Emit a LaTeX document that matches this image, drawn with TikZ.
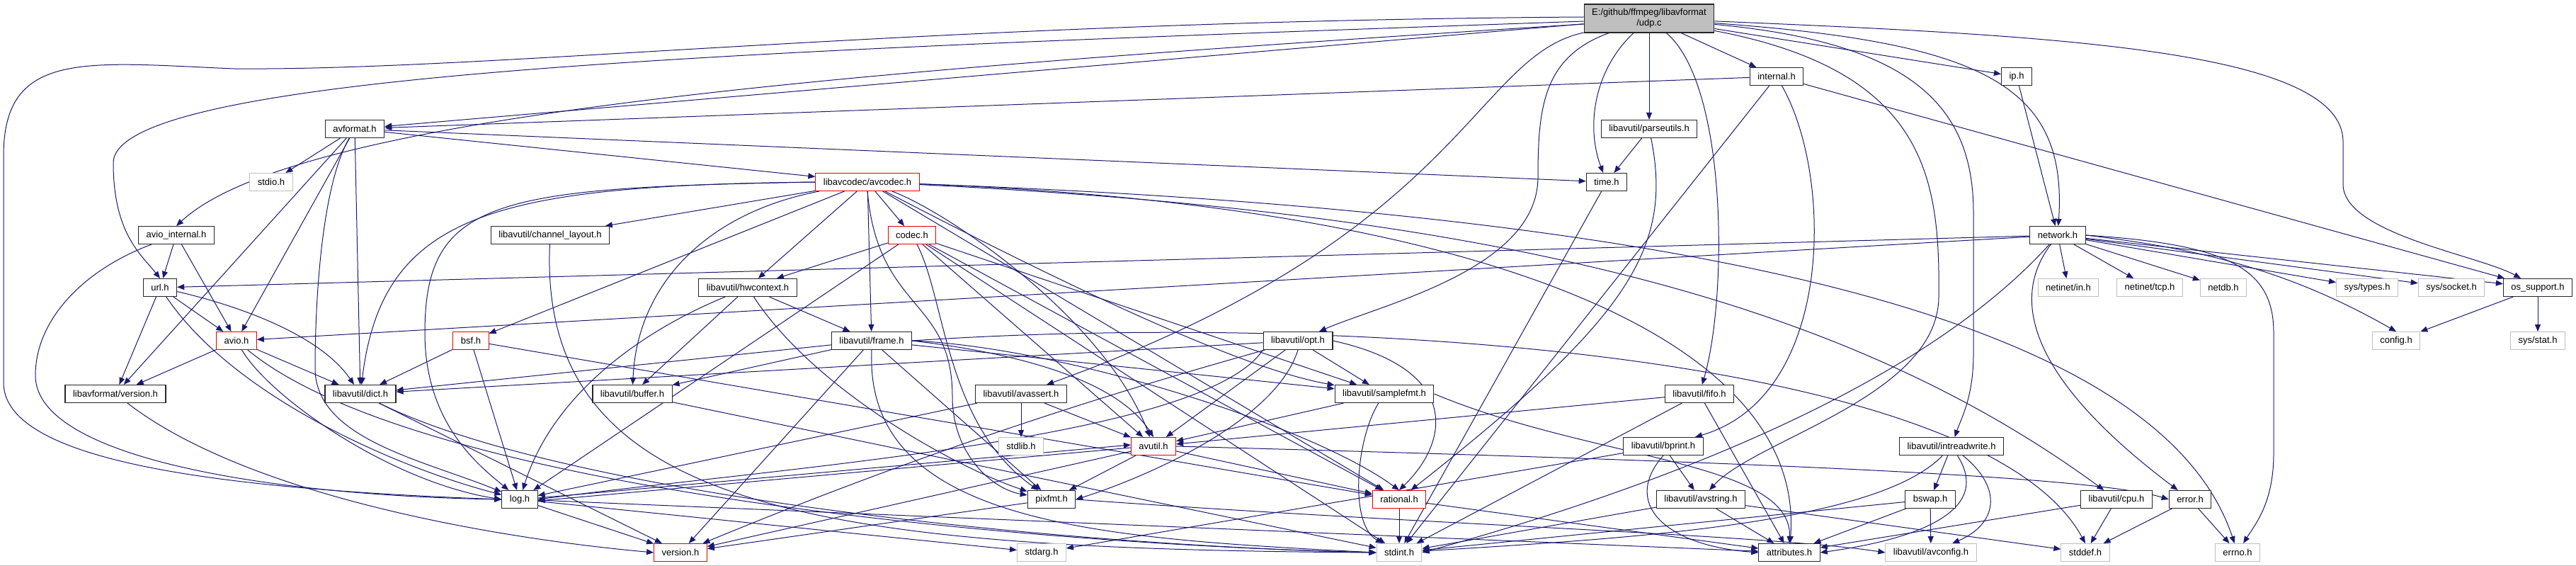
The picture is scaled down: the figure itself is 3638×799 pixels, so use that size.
\documentclass[tikz,border=0pt]{standalone}
\usepackage{fontspec}
\setmainfont{Liberation Sans}
\usepackage{tikz}
\usetikzlibrary{arrows.meta, backgrounds}

\definecolor{edgeblue}{HTML}{191970}
\definecolor{sysgray}{HTML}{BFBFBF}

\begin{document}
\begin{tikzpicture}[
        x=1pt, y=-1pt,
        hdr/.style={
            draw=black!85,
            line width=1.1pt,
            fill=white,
            font=\fontsize{13}{15}\selectfont,
            minimum height=25pt,
            inner xsep=11pt,
            inner ysep=0pt
        },
        trunc/.style={hdr, draw=red!90!black, line width=1pt},
        sys/.style={hdr, draw=sysgray, line width=1pt},
        root/.style={hdr, fill=sysgray, align=center, minimum height=40pt},
        dep/.style={
            draw=edgeblue,
            line width=1pt,
            -{Triangle[length=10pt,width=8pt]}
        }
    ]
    \useasboundingbox (0,0) rectangle (3638,799);
    \draw[sysgray] (0,798) -- (3638,798);

    % the file itself
    \node[root] (udp) at (2329,26) {E:/github/ffmpeg/libavformat\\/udp.c};

    % first levels
    \node[hdr] (avformat) at (501,182) {avformat.h};
    \node[hdr] (internal) at (2509,108) {internal.h};
    \node[hdr] (ip) at (2848,108) {ip.h};
    \node[hdr] (parseutils) at (2329,182) {libavutil/parseutils.h};
    \node[sys] (stdio) at (383,257) {stdio.h};
    \node[trunc] (avcodec) at (1225,257) {libavcodec/avcodec.h};
    \node[hdr] (time) at (2269,257) {time.h};
    \node[hdr] (aviointernal) at (249,332) {avio\_internal.h};
    \node[hdr] (chlayout) at (777,332) {libavutil/channel\_layout.h};
    \node[trunc] (codec) at (1288,332) {codec.h};
    \node[hdr] (network) at (2906,332) {network.h};

    % middle levels
    \node[hdr] (url) at (226,406) {url.h};
    \node[hdr] (hwcontext) at (1056,406) {libavutil/hwcontext.h};
    \node[sys] (netin) at (2921,406) {netinet/in.h};
    \node[sys] (nettcp) at (3036,406) {netinet/tcp.h};
    \node[sys] (netdb) at (3140,406) {netdb.h};
    \node[sys] (systypes) at (3343,406) {sys/types.h};
    \node[sys] (syssocket) at (3462,406) {sys/socket.h};
    \node[hdr] (ossupport) at (3584,406) {os\_support.h};
    \node[trunc] (avio) at (334,481) {avio.h};
    \node[trunc] (bsf) at (665,481) {bsf.h};
    \node[hdr] (frame) at (1231,481) {libavutil/frame.h};
    \node[hdr] (opt) at (1833,481) {libavutil/opt.h};
    \node[sys] (config) at (3384,481) {config.h};
    \node[sys] (sysstat) at (3584,481) {sys/stat.h};
    \node[hdr] (lafversion) at (163,556) {libavformat/version.h};
    \node[hdr] (dict) at (509,556) {libavutil/dict.h};
    \node[hdr] (buffer) at (893,556) {libavutil/buffer.h};
    \node[hdr] (avassert) at (1442,556) {libavutil/avassert.h};
    \node[hdr] (samplefmt) at (1955,556) {libavutil/samplefmt.h};
    \node[hdr] (fifo) at (2400,556) {libavutil/fifo.h};
    \node[sys] (stdlib) at (1442,630) {stdlib.h};
    \node[trunc] (avutil) at (1629,630) {avutil.h};
    \node[hdr] (bprint) at (2349,630) {libavutil/bprint.h};
    \node[hdr] (intrw) at (2756,630) {libavutil/intreadwrite.h};

    % bottom levels
    \node[hdr] (log) at (734,705) {log.h};
    \node[hdr] (pixfmt) at (1485,705) {pixfmt.h};
    \node[trunc] (rational) at (1976,705) {rational.h};
    \node[hdr] (avstring) at (2402,705) {libavutil/avstring.h};
    \node[hdr] (bswap) at (2726,705) {bswap.h};
    \node[hdr] (cpu) at (2989,705) {libavutil/cpu.h};
    \node[hdr] (error) at (3093,705) {error.h};
    \node[trunc] (version) at (961,780) {version.h};
    \node[sys] (stdarg) at (1471,780) {stdarg.h};
    \node[sys] (stdint) at (1976,780) {stdint.h};
    \node[hdr] (attributes) at (2527,780) {attributes.h};
    \node[sys] (avconfig) at (2727,780) {libavutil/avconfig.h};
    \node[sys] (stddef) at (2945,780) {stddef.h};
    \node[sys] (errno) at (3160,780) {errno.h};

    \begin{pgfonlayer}{background}
    % udp.c
    \draw[dep] (udp) -- (avformat);
    \draw[dep] ([yshift=-8pt]udp.west) .. controls (1200,100) and (420,160) .. (aviointernal.north);
    \draw[dep] ([yshift=-4pt]udp.west) .. controls (1100,70) and (160,100) .. (160,230) .. controls (160,330) and (200,360) .. (url.north);
    \draw[dep] ([yshift=2pt]udp.west) .. controls (1300,30) and (700,100) .. (330,97) .. controls (120,88) and (5,70) .. (5,220) -- (5,540) .. controls (5,650) and (300,690) .. (log.west);
    \draw[dep] (udp) .. controls (2080,80) and (2070,330) .. (avassert);
    \draw[dep] (udp) -- (parseutils);
    \draw[dep] (udp) .. controls (2250,100) and (2240,180) .. (time);
    \draw[dep] (udp) .. controls (2440,120) and (2440,420) .. (fifo);
    \draw[dep] (udp) .. controls (2700,60) and (2787,150) .. (2787,300) -- (2787,500) .. controls (2787,560) and (2770,590) .. (intrw);
    \draw[dep] (udp) .. controls (2720,100) and (2740,250) .. (2738,420) .. controls (2736,560) and (2480,620) .. (avstring);
    \draw[dep] (udp) .. controls (2180,80) and (2172,150) .. (2172,250) .. controls (2172,380) and (1950,430) .. (opt);
    \draw[dep] (udp) -- (internal);
    \draw[dep] (udp) -- (ip);
    \draw[dep] (udp) .. controls (2800,60) and (2920,120) .. (network);
    \draw[dep] (udp) .. controls (2900,50) and (3309,70) .. (3309,200) -- (3309,260) .. controls (3309,330) and (3500,360) .. (ossupport);

    % avformat.h
    \draw[dep] (avformat) -- (time);
    \draw[dep] (avformat) -- (stdio);
    \draw[dep] (avformat) -- (avcodec);
    \draw[dep] (avformat) -- (dict);
    \draw[dep] (avformat) .. controls (455,260) and (445,420) .. (445,520) .. controls (445,620) and (600,650) .. (log);
    \draw[dep] (avformat) -- (avio);
    \draw[dep] (avformat) -- (lafversion);

    % internal.h, ip.h, parseutils.h, time.h
    \draw[dep] (internal) -- (avformat);
    \draw[dep] (internal) .. controls (2590,250) and (2590,560) .. (bprint);
    \draw[dep] (internal) -- (stdint);
    \draw[dep] (internal) -- (ossupport);
    \draw[dep] (ip) -- (network);
    \draw[dep] (parseutils) -- (time);
    \draw[dep] (parseutils) .. controls (2363,350) and (2300,450) .. (rational);
    \draw[dep] (time) -- (stdint);

    % avcodec.h
    \draw[dep] (avcodec) .. controls (2400,300) and (3050,450) .. (errno);
    \draw[dep] (avcodec) .. controls (1500,400) and (1750,520) .. (samplefmt);
    \draw[dep] (avcodec) .. controls (2100,290) and (2550,480) .. (attributes);
    \draw[dep] (avcodec) .. controls (1340,300) and (1560,450) .. (avutil);
    \draw[dep] (avcodec) .. controls (1000,300) and (900,400) .. (buffer);
    \draw[dep] (avcodec) .. controls (2100,300) and (2600,420) .. (cpu);
    \draw[dep] (avcodec) -- (chlayout);
    \draw[dep] (avcodec.west) .. controls (700,262) and (540,300) .. (dict);
    \draw[dep] (avcodec) -- (frame);
    \draw[dep] (avcodec) -- (hwcontext);
    \draw[dep] (avcodec.west) .. controls (700,265) and (600,280) .. (600,470) .. controls (600,600) and (680,660) .. (log);
    \draw[dep] (avcodec.south) .. controls (1240,440) and (1345,420) .. (1345,560) .. controls (1345,640) and (1400,690) .. (pixfmt);
    \draw[dep] (avcodec) -- (rational);
    \draw[dep] (avcodec) -- (bsf);
    \draw[dep] (avcodec) -- (codec);

    % avio_internal.h, url.h, avio.h, version
    \draw[dep] (aviointernal) -- (avio);
    \draw[dep] (aviointernal) -- (url);
    \draw[dep] (aviointernal) .. controls (120,380) and (50,450) .. (50,530) .. controls (50,650) and (400,700) .. (log.west);
    \draw[dep] (url) -- (avio);
    \draw[dep] (url) -- (lafversion);
    \draw[dep] (url) .. controls (330,430) and (450,470) .. (dict);
    \draw[dep] (url) .. controls (330,560) and (560,660) .. (log);
    \draw[dep] (avio) .. controls (600,700) and (1500,770) .. (stdint.west);
    \draw[dep] (avio) -- (dict);
    \draw[dep] (avio) .. controls (380,560) and (550,680) .. (log.west);
    \draw[dep] (avio) -- (lafversion);
    \draw[dep] (lafversion) .. controls (350,700) and (700,760) .. (version.west);
    \draw[dep] (dict) .. controls (800,700) and (1500,770) .. (stdint.west);
    \draw[dep] (dict) -- (version);

    % channel_layout.h, codec.h, hwcontext.h, bsf.h, buffer.h
    \draw[dep] (chlayout) .. controls (760,720) and (1150,775) .. (stdint.west);
    \draw[dep] (codec) -- (stdint);
    \draw[dep] (codec) -- (avutil);
    \draw[dep] (codec) -- (hwcontext);
    \draw[dep] (codec) -- (log);
    \draw[dep] (codec) .. controls (1335,420) and (1335,600) .. (pixfmt);
    \draw[dep] (codec) -- (rational);
    \draw[dep] (codec) -- (samplefmt);
    \draw[dep] (hwcontext) -- (buffer);
    \draw[dep] (hwcontext) -- (frame);
    \draw[dep] (hwcontext) .. controls (900,470) and (780,560) .. (log);
    \draw[dep] (hwcontext) .. controls (1150,550) and (1350,660) .. (pixfmt);
    \draw[dep] (bsf) -- (dict);
    \draw[dep] (bsf) -- (log);
    \draw[dep] (bsf) -- (rational);
    \draw[dep] (buffer) -- (stdint);

    % frame.h
    \draw[dep] (frame.east) .. controls (1900,440) and (2800,500) .. (stddef.north);
    \draw[dep] (frame.south) .. controls (1220,740) and (1550,760) .. (stdint.west);
    \draw[dep] (frame.east) .. controls (1450,500) and (1580,540) .. (avutil.north);
    \draw[dep] (frame) -- (buffer);
    \draw[dep] (frame) -- (dict);
    \draw[dep] (frame.east) .. controls (1500,490) and (1850,600) .. (rational.north);
    \draw[dep] (frame) -- (samplefmt);
    \draw[dep] (frame) -- (pixfmt);
    \draw[dep] (frame) -- (version);

    % opt.h
    \draw[dep] (opt.east) .. controls (2060,520) and (2050,620) .. (rational.north);
    \draw[dep] (opt) -- (avutil);
    \draw[dep] (opt) -- (dict);
    \draw[dep] (opt.south west) .. controls (1700,620) and (1100,660) .. (log.east);
    \draw[dep] (opt.south) .. controls (1800,600) and (1600,680) .. (pixfmt.east);
    \draw[dep] (opt) -- (samplefmt);
    \draw[dep] (opt) .. controls (1550,560) and (1300,640) .. (version);

    % avassert.h, samplefmt.h, fifo.h
    \draw[dep] (avassert) -- (stdlib);
    \draw[dep] (avassert) -- (avutil);
    \draw[dep] (avassert) -- (log);
    \draw[dep] (samplefmt) .. controls (1915,620) and (1905,740) .. (stdint);
    \draw[dep] (samplefmt) -- (avutil);
    \draw[dep] (samplefmt.east) .. controls (2250,650) and (2530,650) .. (attributes);
    \draw[dep] (fifo) -- (stdint);
    \draw[dep] (fifo) -- (avutil);
    \draw[dep] (fifo) -- (attributes);

    % avutil.h, log.h, pixfmt.h, rational.h
    \draw[dep] (avutil.east) .. controls (2400,650) and (2950,670) .. (error.west);
    \draw[dep] (avutil) -- (rational);
    \draw[dep] (avutil) -- (version);
    \draw[dep] ([yshift=-2pt]avutil.west) -- ([yshift=-2pt]log.east);
    \draw[dep] (avutil) -- (pixfmt);
    \draw[dep] (log) -- (stdarg);
    \draw[dep] ([yshift=2pt]log.east) -- ([yshift=2pt]avutil.west);
    \draw[dep] (log) -- (attributes);
    \draw[dep] (log) -- (version);
    \draw[dep] (pixfmt.east) .. controls (2000,740) and (2500,755) .. (avconfig.west);
    \draw[dep] (pixfmt) -- (version);
    \draw[dep] (rational) -- (stdint);
    \draw[dep] (rational) -- (attributes);

    % bprint.h, intreadwrite.h, bswap.h, avstring.h, cpu.h, error.h
    \draw[dep] (bprint) -- (stdarg);
    \draw[dep] (bprint.south) .. controls (2290,710) and (2350,770) .. (attributes.west);
    \draw[dep] (bprint) -- (avstring);
    \draw[dep] (intrw) .. controls (2650,740) and (2300,760) .. (stdint);
    \draw[dep] (intrw) .. controls (2830,690) and (2820,740) .. (avconfig);
    \draw[dep] (intrw) .. controls (2820,730) and (2680,765) .. (attributes.east);
    \draw[dep] (intrw) -- (bswap);
    \draw[dep] (bswap) -- (stdint);
    \draw[dep] (bswap) -- (avconfig);
    \draw[dep] (bswap) -- (attributes);
    \draw[dep] (avstring) -- (stddef);
    \draw[dep] (avstring) -- (stdint);
    \draw[dep] (avstring) -- (attributes);
    \draw[dep] (cpu) -- (stddef);
    \draw[dep] (cpu) -- (attributes);
    \draw[dep] (error) -- (errno);
    \draw[dep] (error) -- (stddef);

    % network.h, os_support.h
    \draw[dep] (network.east) .. controls (3150,345) and (3211,380) .. (3211,470) -- (3211,640) .. controls (3211,710) and (3185,740) .. (errno);
    \draw[dep] (network) .. controls (2700,560) and (2300,700) .. (stdint.east);
    \draw[dep] (network.east) .. controls (3100,350) and (3230,380) .. (config.north);
    \draw[dep] (network) .. controls (2825,440) and (2900,560) .. (error);
    \draw[dep] (network) -- (ossupport);
    \draw[dep] (network) -- (avio);
    \draw[dep] (network) -- (url);
    \draw[dep] (network) -- (systypes);
    \draw[dep] (network) -- (syssocket);
    \draw[dep] (network) -- (netin);
    \draw[dep] (network) -- (nettcp);
    \draw[dep] (network) -- (netdb);
    \draw[dep] (ossupport) -- (config);
    \draw[dep] (ossupport) -- (sysstat);
    \end{pgfonlayer}

\end{tikzpicture}
\end{document}
